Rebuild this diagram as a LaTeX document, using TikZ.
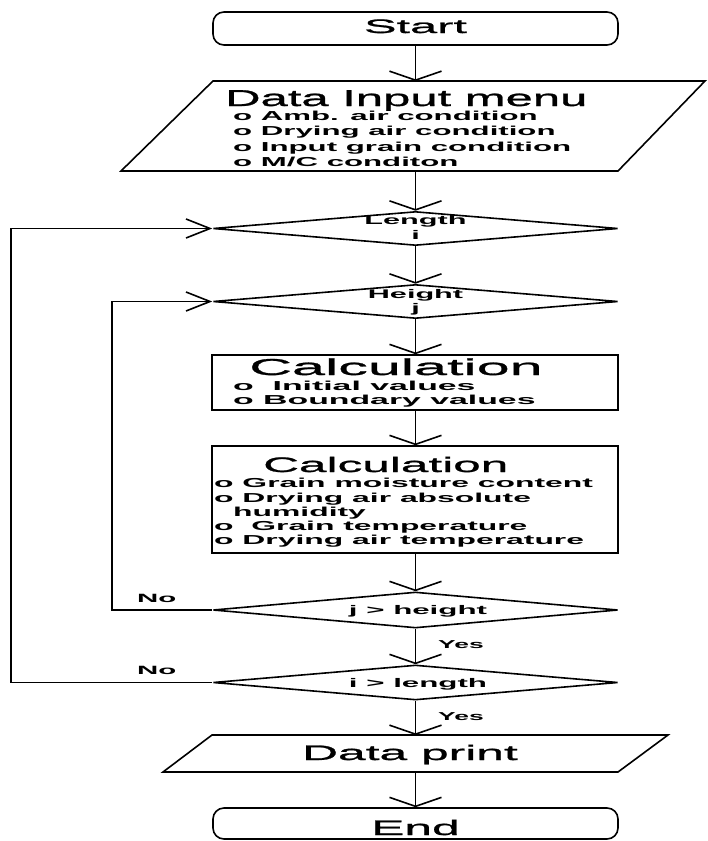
\documentclass[tikz,border=0pt]{standalone}
\usepackage{fontspec}
\setmainfont{Liberation Sans}
\usetikzlibrary{shapes.geometric,arrows.meta}
\newcommand\ff[3]{\fontsize{#1pt}{#1pt}\selectfont#2\addfontfeatures{FakeStretch=#3}}
\newcommand\fh[2]{\fontsize{#1pt}{#1pt}\selectfont\mdseries\addfontfeatures{FakeStretch=#2,FakeBold=1.2}}
\tikzset{
  lw/.style={line width=1.6pt},
  term/.style={draw, lw, rounded corners=11pt, minimum width=405pt, minimum height=33pt, inner sep=0pt},
  proc/.style={draw, lw, minimum width=406pt, inner sep=0pt},
  dec/.style={draw, lw, diamond, minimum width=405pt, minimum height=34pt, inner sep=0pt},
  iobox/.style={draw, lw, line join=miter},
  va/.style={lw, -{Straight Barb[length=9pt,width=52pt]}},
  ha/.style={lw, -{Straight Barb[length=24pt,width=19pt]}},
  tw/.style={inner sep=0pt, anchor=base west},
  tc/.style={inner sep=0pt, anchor=base},
}
\begin{document}
\begin{tikzpicture}[x=1pt,y=-1pt]
\useasboundingbox (0,0) rectangle (708,841);
% shapes
\node[term] (start) at (415.5,28.5) {};
% Data input parallelogram
\coordinate (dinTL) at (213,81);
\coordinate (dinTR) at (705,81);
\coordinate (dinBR) at (618,171);
\coordinate (dinBL) at (121,171);
\coordinate (din-t) at (415.5,81);
\coordinate (din-b) at (415.5,171);
\draw[iobox] (dinTL) -- (dinTR) -- (dinBR) -- (dinBL) -- cycle;
\node[dec] (len) at (415.5,228.5) {};
\node[dec] (hgt) at (415.5,301.5) {};
\node[proc, minimum height=55pt] (c1) at (415,382.5) {};
\node[proc, minimum height=107pt] (c2) at (415,499.5) {};
\node[dec, minimum height=36pt] (jh) at (415.5,610) {};
\node[dec, minimum height=35pt] (il) at (415.5,682.5) {};
% Data print parallelogram
\coordinate (dpTL) at (212,735);
\coordinate (dpTR) at (668,735);
\coordinate (dpBR) at (618,772);
\coordinate (dpBL) at (163,772);
\coordinate (dp-t) at (415.5,735);
\coordinate (dp-b) at (415.5,772);
\draw[iobox] (dpTL) -- (dpTR) -- (dpBR) -- (dpBL) -- cycle;
\node[term, minimum height=31pt] (end) at (415.5,823.5) {};
% texts
\node[tc] (tstart) at (415.5,33) {\fh{19.5}{2.5}Start};
\node[tw] (tdin) at (225,106) {\fh{23}{2.13}Data Input menu};
\node[tw] (d1) at (233,120) {\ff{13}{\bfseries}{2.4}o Amb. air condition};
\node[tw] (d2) at (233,135) {\ff{13}{\bfseries}{2.4}o Drying air condition};
\node[tw] (d3) at (233,151) {\ff{13}{\bfseries}{2.4}o Input grain condition};
\node[tw] (d4) at (233,166) {\ff{13}{\bfseries}{2.4}o M/C conditon};
\node[tc] (tlen) at (415.5,224) {\ff{12.5}{\bfseries}{2.45}Length};
\node[tc] (tli) at (415.5,239) {\ff{12.5}{\bfseries}{2.45}i};
\node[tc] (thgt) at (415.5,298) {\ff{12.5}{\bfseries}{2.45}Height};
\node[tc] (thj) at (415.5,312) {\ff{12.5}{\bfseries}{2.45}j};
\node[tw] (tc1) at (249,375) {\fh{23}{2.58}Calculation};
\node[tw] (e1) at (233,390) {\ff{13}{\bfseries}{2.6}o \ Initial values};
\node[tw] (e2) at (233,404) {\ff{13}{\bfseries}{2.6}o Boundary values};
\node[tw] (tc2) at (263,472) {\fh{21}{2.36}Calculation};
\node[tw] (f1) at (214,487) {\ff{13}{\bfseries}{2.45}o Grain moisture content};
\node[tw] (f2) at (214,502) {\ff{13}{\bfseries}{2.45}o Drying air absolute};
\node[tw] (f3) at (233,516) {\ff{13}{\bfseries}{2.45}humidity};
\node[tw] (f4) at (214,530) {\ff{13}{\bfseries}{2.45}o \ Grain temperature};
\node[tw] (f5) at (214,544) {\ff{13}{\bfseries}{2.45}o Drying air temperature};
\node[tc] (tjh) at (418,614) {\ff{12.5}{\bfseries}{2.5}j > height};
\node[tc] (til) at (418,687) {\ff{12.5}{\bfseries}{2.5}i > length};
\node[tw] (no1) at (137,602) {\ff{12}{\bfseries}{2.45}No};
\node[tw] (no2) at (137,674) {\ff{12}{\bfseries}{2.45}No};
\node[tw] (yes1) at (438,648) {\ff{11.5}{\bfseries}{2.3}Yes};
\node[tw] (yes2) at (438,720) {\ff{11.5}{\bfseries}{2.3}Yes};
\node[tc] (tdp) at (410,760) {\fh{21}{2.37}Data print};
\node[tc] (tend) at (415.5,835) {\fh{21}{2.37}End};
% connectors
\draw[va] (start.south) -- (din-t);
\draw[va] (din-b) -- (len.north);
\draw[va] (len.south) -- (hgt.north);
\draw[va] (hgt.south) -- (hgt.south |- c1.north);
\draw[va] (hgt.south |- c1.south) -- (hgt.south |- c2.north);
\draw[va] (hgt.south |- c2.south) -- (jh.north);
\draw[va] (jh.south) -- (il.north);
\draw[va] (il.south) -- (dp-t);
\draw[va] (dp-b) -- (il.south |- end.north);
\coordinate (inL) at (112,0);
\coordinate (outL) at (11,0);
\draw[ha] (jh.west) -- (jh.west -| inL) |- (hgt.west);
\draw[ha] (il.west) -- (il.west -| outL) |- (len.west);
\end{tikzpicture}
\end{document}
